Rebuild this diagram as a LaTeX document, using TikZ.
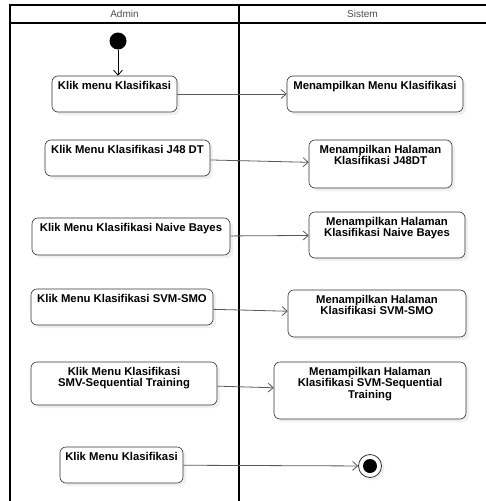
\documentclass[tikz,border=0pt]{standalone}
\usepackage{fontspec}
\setmainfont{Liberation Sans}
\usepackage{tikz}
\usetikzlibrary{arrows.meta,positioning,shadows}

\begin{document}
\begin{tikzpicture}[x=1pt, y=-1pt,
    act/.style={draw=black!80, semithick, rounded corners=6pt, fill=white, inner sep=0pt,
        drop shadow={opacity=0.12, shadow xshift=3pt, shadow yshift=-3pt}},
    txt/.style={anchor=north, align=center, font=\fontsize{11.3}{11.5}\selectfont\bfseries,
        inner sep=0pt, yshift=-5pt},
    flow/.style={draw=black!65, thick, -{Straight Barb[length=5pt, width=9pt]}},
    lane/.style={line width=1.2pt},
    head/.style={font=\fontsize{10}{11}\selectfont, text=black!70}]
    \useasboundingbox (0,0) rectangle (486,501);

    % Swimlanes
    \draw[lane] (486,5) -- (10,5) -- (10,501);
    \draw[lane] (10,23) -- (486,23);
    \draw[lane] (239,5) -- (239,501);
    \node[head] (admin) at (124.5,14) {Admin};
    \node[head] (sistem) at (362.5,14) {Sistem};

    % Start
    \node[circle, fill=black, minimum size=17pt, inner sep=0pt] (start) at (118,41) {};

    % Admin actions
    \node[act, minimum width=125, minimum height=36,
        label={[txt]north:Klik menu Klasifikasi}] (k1) at (114.5,94) {};
    \node[act, minimum width=165, minimum height=36,
        label={[txt]north:Klik Menu Klasifikasi J48 DT}] (k2) at (127.5,158) {};
    \node[act, minimum width=198, minimum height=37,
        label={[txt]north:Klik Menu Klasifikasi Naive Bayes}] (k3) at (131,236.5) {};
    \node[act, minimum width=182, minimum height=36,
        label={[txt]north:Klik Menu Klasifikasi SVM-SMO}] (k4) at (122,307) {};
    \node[act, minimum width=186, minimum height=43,
        label={[txt]north:Klik Menu Klasifikasi\\SMV-Sequential Training}] (k5) at (124,383.5) {};
    \node[act, minimum width=123, minimum height=36,
        label={[txt]north:Klik Menu Klasifikasi}] (k6) at (121.5,465) {};

    % Sistem actions
    \node[act, minimum width=176, minimum height=36,
        label={[txt]north:Menampilkan Menu Klasifikasi}] (s1) at (375,94) {};
    \node[act, minimum width=143, minimum height=48,
        label={[txt]north:Menampilkan Halaman\\Klasifikasi J48DT}] (s2) at (380.5,164) {};
    \node[act, minimum width=156, minimum height=46,
        label={[txt]north:Menampilkan Halaman\\Klasifikasi Naive Bayes}] (s3) at (387,235) {};
    \node[act, minimum width=178, minimum height=47,
        label={[txt]north:Menampilkan Halaman\\Klasifikasi SVM-SMO}] (s4) at (377,313.5) {};
    \node[act, minimum width=192, minimum height=57,
        label={[txt]north:Menampilkan Halaman\\Klasifikasi SVM-Sequential\\Training}] (s5) at (370,390.5) {};

    % End
    \node[circle, draw=black!80, thick, fill=white, minimum size=23pt, inner sep=0pt,
        drop shadow={opacity=0.12, shadow xshift=3pt, shadow yshift=-3pt}] (stop) at (370,466) {};
    \node[circle, fill=black, minimum size=14pt, inner sep=0pt] (stopdot) at (stop) {};

    % Flows
    \draw[flow, draw=black] (start) -- (start |- k1.north);
    \draw[flow] (k1) -- (s1);
    \draw[flow] (k2) -- (s2);
    \draw[flow] (k3) -- (s3);
    \draw[flow] (k4) -- (s4);
    \draw[flow] (k5) -- (s5);
    \draw[flow] (k6) -- (stop);
\end{tikzpicture}
\end{document}
